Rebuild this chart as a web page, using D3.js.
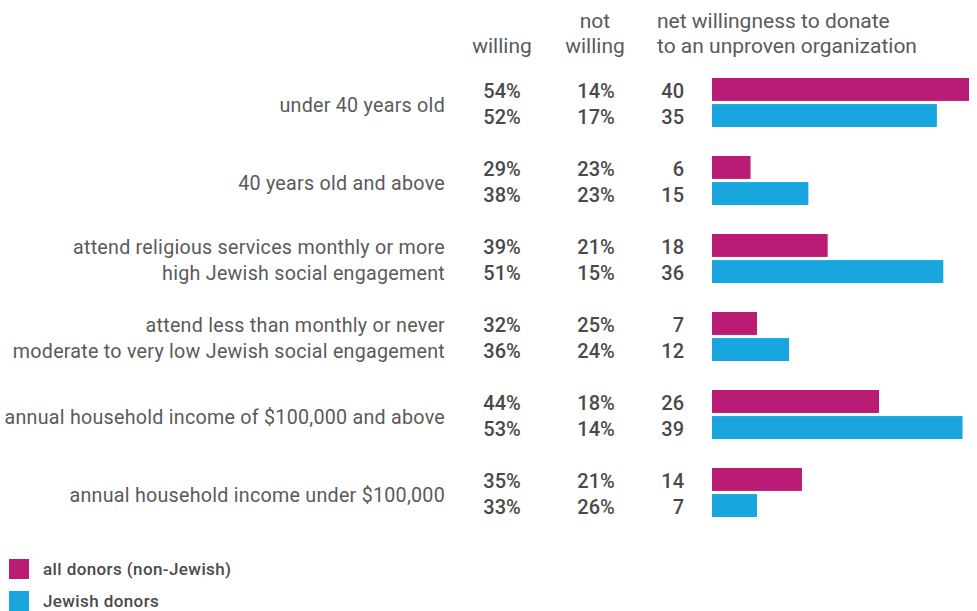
<!DOCTYPE html>
<html>
<head>
<meta charset="utf-8">
<script src="https://cdn.jsdelivr.net/npm/d3@7"></script>
<style>
  html, body { margin: 0; padding: 0; background: #fff; }
  svg { display: block; }
  text { font-family: Roboto, "Open Sans", sans-serif; }
</style>
</head>
<body>
<svg id="chart" width="977" height="611"></svg>
<script>
// Segment labels (one or two lines each)
const groups = [
  ["under 40 years old"],
  ["40 years old and above"],
  ["attend religious services monthly or more", "high Jewish social engagement"],
  ["attend less than monthly or never", "moderate to very low Jewish social engagement"],
  ["annual household income of $100,000 and above"],
  ["annual household income under $100,000"]
];
const seriesNames = ["all donors (non-Jewish)", "Jewish donors"];
const seriesColors = ["#BA1B74", "#19A6DF"];

// percentages willing / not willing and net willingness, per series
const willingAll     = [54, 29, 39, 32, 44, 35];
const notWillingAll  = [14, 23, 21, 25, 18, 21];
const netAll         = [40, 6, 18, 7, 26, 14];
const willingJew     = [52, 38, 51, 36, 53, 33];
const notWillingJew  = [17, 23, 15, 24, 14, 26];
const netJew         = [35, 15, 36, 12, 39, 7];

const rows = [];
groups.forEach((g, i) => {
  rows.push({ group: i, s: 0, willing: willingAll[i], notWilling: notWillingAll[i], net: netAll[i] });
  rows.push({ group: i, s: 1, willing: willingJew[i], notWilling: notWillingJew[i], net: netJew[i] });
});

const svg = d3.select("#chart");
const textColor = "#5a5a5a";
const numColor = "#4a4a4a";

const yGroup = d3.scaleBand().domain(d3.range(groups.length)).range([78, 546]);
const ySeries = d3.scaleBand().domain([0, 1]).range([0, 49]).paddingInner(0.12);
const x = d3.scaleLinear().domain([0, 40]).range([712, 969]);

const rowY = d => yGroup(d.group) + ySeries(d.s);
const rowMid = d => rowY(d) + ySeries.bandwidth() / 2;

// column headers
const hdr = svg.append("g").attr("fill", textColor).style("font-size", "21px");
hdr.append("text").attr("x", 502).attr("y", 53).attr("text-anchor", "middle").text("willing");
hdr.append("text").attr("x", 595).attr("y", 28).attr("text-anchor", "middle").text("not");
hdr.append("text").attr("x", 595).attr("y", 53).attr("text-anchor", "middle").text("willing");
hdr.append("text").attr("x", 657).attr("y", 28).text("net willingness to donate");
hdr.append("text").attr("x", 657).attr("y", 53).text("to an unproven organization");

// segment labels
const lab = svg.append("g").attr("fill", textColor)
  .style("font-size", "19.7px").style("letter-spacing", "0.25px").attr("text-anchor", "end");
groups.forEach((lines, i) => {
  const top = yGroup(i);
  if (lines.length === 1) {
    lab.append("text").attr("x", 445).attr("y", top + 24.5).attr("dy", "9.5px").text(lines[0]);
  } else {
    lines.forEach((t, k) => {
      lab.append("text").attr("x", 445)
        .attr("y", top + ySeries(k) + ySeries.bandwidth() / 2).attr("dy", "8.5px").text(t);
    });
  }
});

// numbers
const nums = svg.append("g").attr("fill", numColor).style("font-size", "20px").style("font-weight", 500);
nums.selectAll(".w").data(rows).join("text").attr("class", "w")
  .attr("x", 502).attr("y", rowMid).attr("dy", "8.5px").attr("text-anchor", "middle")
  .text(d => d.willing + "%");
nums.selectAll(".nw").data(rows).join("text").attr("class", "nw")
  .attr("x", 596).attr("y", rowMid).attr("dy", "8.5px").attr("text-anchor", "middle")
  .text(d => d.notWilling + "%");
nums.selectAll(".n").data(rows).join("text").attr("class", "n")
  .attr("x", 684).attr("y", rowMid).attr("dy", "8.5px").attr("text-anchor", "end")
  .text(d => d.net);

// bars
svg.append("g").selectAll("rect").data(rows).join("rect")
  .attr("x", x(0)).attr("y", rowY)
  .attr("width", d => x(d.net) - x(0))
  .attr("height", ySeries.bandwidth())
  .attr("fill", d => seriesColors[d.s]);

// legend
const leg = svg.append("g").selectAll("g").data(seriesNames).join("g")
  .attr("transform", (d, i) => `translate(9, ${559 + i * 32})`);
leg.append("rect").attr("width", 20).attr("height", 20).attr("fill", (d, i) => seriesColors[i]);
leg.append("text").attr("x", 34).attr("y", 10).attr("dy", "6px")
  .attr("fill", numColor).style("font-size", "17px").style("letter-spacing", "0.4px")
  .style("font-weight", 500).text(d => d);
</script>
</body>
</html>
